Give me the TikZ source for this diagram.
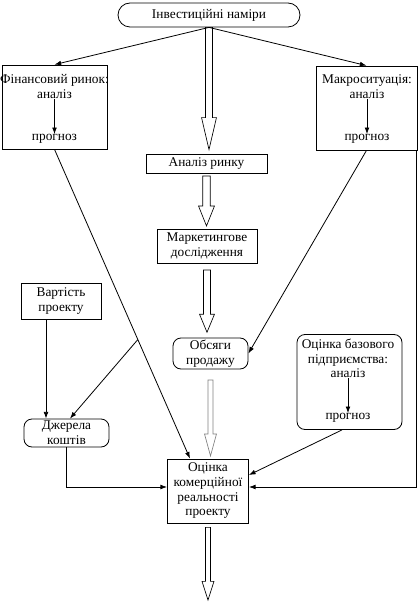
\documentclass[tikz,border=0pt]{standalone}
\usepackage{fontspec}
\setmainfont{Liberation Serif}
\usepackage{tikz}
\usetikzlibrary{arrows, arrows.meta, calc}
\tikzset{block/.style = {shape = rectangle, draw, line width = 0.6pt, inner sep = 1pt, align = center, font = \fontsize{10}{11}\selectfont}}
\tikzset{rblock/.style = {block, rounded corners = 6pt}}
\tikzset{txt/.style = {inner sep = 0pt, align = center, font = \fontsize{10}{11}\selectfont}}
\tikzset{edge/.style = {-{Latex[length = 5pt, width = 3.6pt]}, line width = 0.6pt}}

% hollow arrow: [colour]{from}{to}{head length}{half shaft}{half head}
\newcommand{\bigarr}[6][black]{%
  \draw[#1, line width = 0.5pt] let \p1 = (#2), \p2 = (#3) in
    (\x1-#5, \y1) -- (\x1-#5, \y2+#4) -- (\x1-#6, \y2+#4) -- (\x1, \y2)
    -- (\x1+#6, \y2+#4) -- (\x1+#5, \y2+#4) -- (\x1+#5, \y1) -- cycle;}

\begin{document}
\begin{tikzpicture}[x = 0.75pt, y = -0.75pt]
	\useasboundingbox (0, 0) rectangle (419, 602);

	\node[rblock, minimum width = 136.5pt, minimum height = 18pt, rounded corners = 9pt] (top) at (209, 15) {Інвестиційні наміри};

	\node[block, minimum width = 78.75pt, minimum height = 63pt] (fin) at (54.5, 107) {};
	\node[txt] (fina) at (54.5, 86.5) {Фінансовий ринок:\\аналіз};
	\node[txt] (finp) at (54.5, 139) {прогноз};

	\node[block, minimum width = 75.75pt, minimum height = 63pt] (macro) at (366.5, 108) {};
	\node[txt] (macroa) at (367, 86.5) {Макроситуація:\\аналіз};
	\node[txt] (macrop) at (367, 139) {прогноз};

	\node[block, minimum width = 90.75pt, minimum height = 14.25pt] (rynok) at (206.5, 163.5) {Аналіз ринку};
	\node[block, minimum width = 75pt, minimum height = 25.5pt] (market) at (207, 246) {Маркетингове\\дослідження};
	\node[block, minimum width = 60pt, minimum height = 27pt] (vart) at (61, 301) {Вартість\\проекту};
	\node[rblock, minimum width = 56.25pt, minimum height = 23.25pt] (obs) at (210.5, 353.5) {Обсяги\\продажу};

	\node[rblock, minimum width = 78.75pt, minimum height = 71.25pt] (baz) at (349.5, 382) {};
	\node[txt] (baza) at (348, 358.5) {Оцінка базового\\підприємства:\\аналіз};
	\node[txt] (bazp) at (348, 418) {прогноз};

	\node[rblock, minimum width = 63.75pt, minimum height = 21pt] (dzh) at (66.5, 433) {Джерела\\коштів};
	\node[block, minimum width = 60.75pt, minimum height = 48pt] (ocin) at (208, 491) {Оцінка\\комерційної\\реальності\\проекту};
	\coordinate (out) at (210, 600);

	% thin connectors
	\draw[edge] (top.south) -- (fin.north);
	\draw[edge] (top.south) -- (macro.north);
	\draw[edge] (fina) -- (finp);
	\draw[edge] (macroa) -- (macrop);
	\draw[edge] (baza) -- (bazp);
	\draw[edge] (fin.south) -- coordinate[pos = 0.615] (br) ([xshift = -13.5pt]ocin.north);
	\draw[edge] (br) -- ([xshift = 2.6pt]dzh.north);
	\draw[edge] ([xshift = -11.25pt]vart.south) -- ([xshift = -11.25pt]vart.south |- dzh.north);
	\draw[edge] (dzh.south) |- ([yshift = 3pt]ocin.west);
	\draw[edge] (macro.south) -- (obs.east);
	\draw[edge] ([xshift = -0.4pt]macro.south east) |- ([yshift = 3pt]ocin.east);
	\draw[edge] ([xshift = -5.6pt]baz.south) -- ([yshift = 12pt]ocin.east);

	% hollow arrows
	\bigarr{top.south}{[yshift = 3pt]rynok.north}{24pt}{2.6pt}{5.6pt}
	\bigarr{[yshift = -2pt]rynok.south}{[yshift = 2pt]market.north}{15pt}{2.8pt}{6pt}
	\bigarr{[yshift = -5pt]market.south}{[yshift = 4pt]obs.north}{13.5pt}{2.6pt}{5.6pt}
	\bigarr[gray]{[yshift = -8pt]obs.south}{[yshift = 2pt]ocin.north}{16.5pt}{1.9pt}{4.5pt}
	\bigarr{[yshift = -3pt]ocin.south}{out}{14pt}{1.9pt}{4.5pt}
\end{tikzpicture}
\end{document}
